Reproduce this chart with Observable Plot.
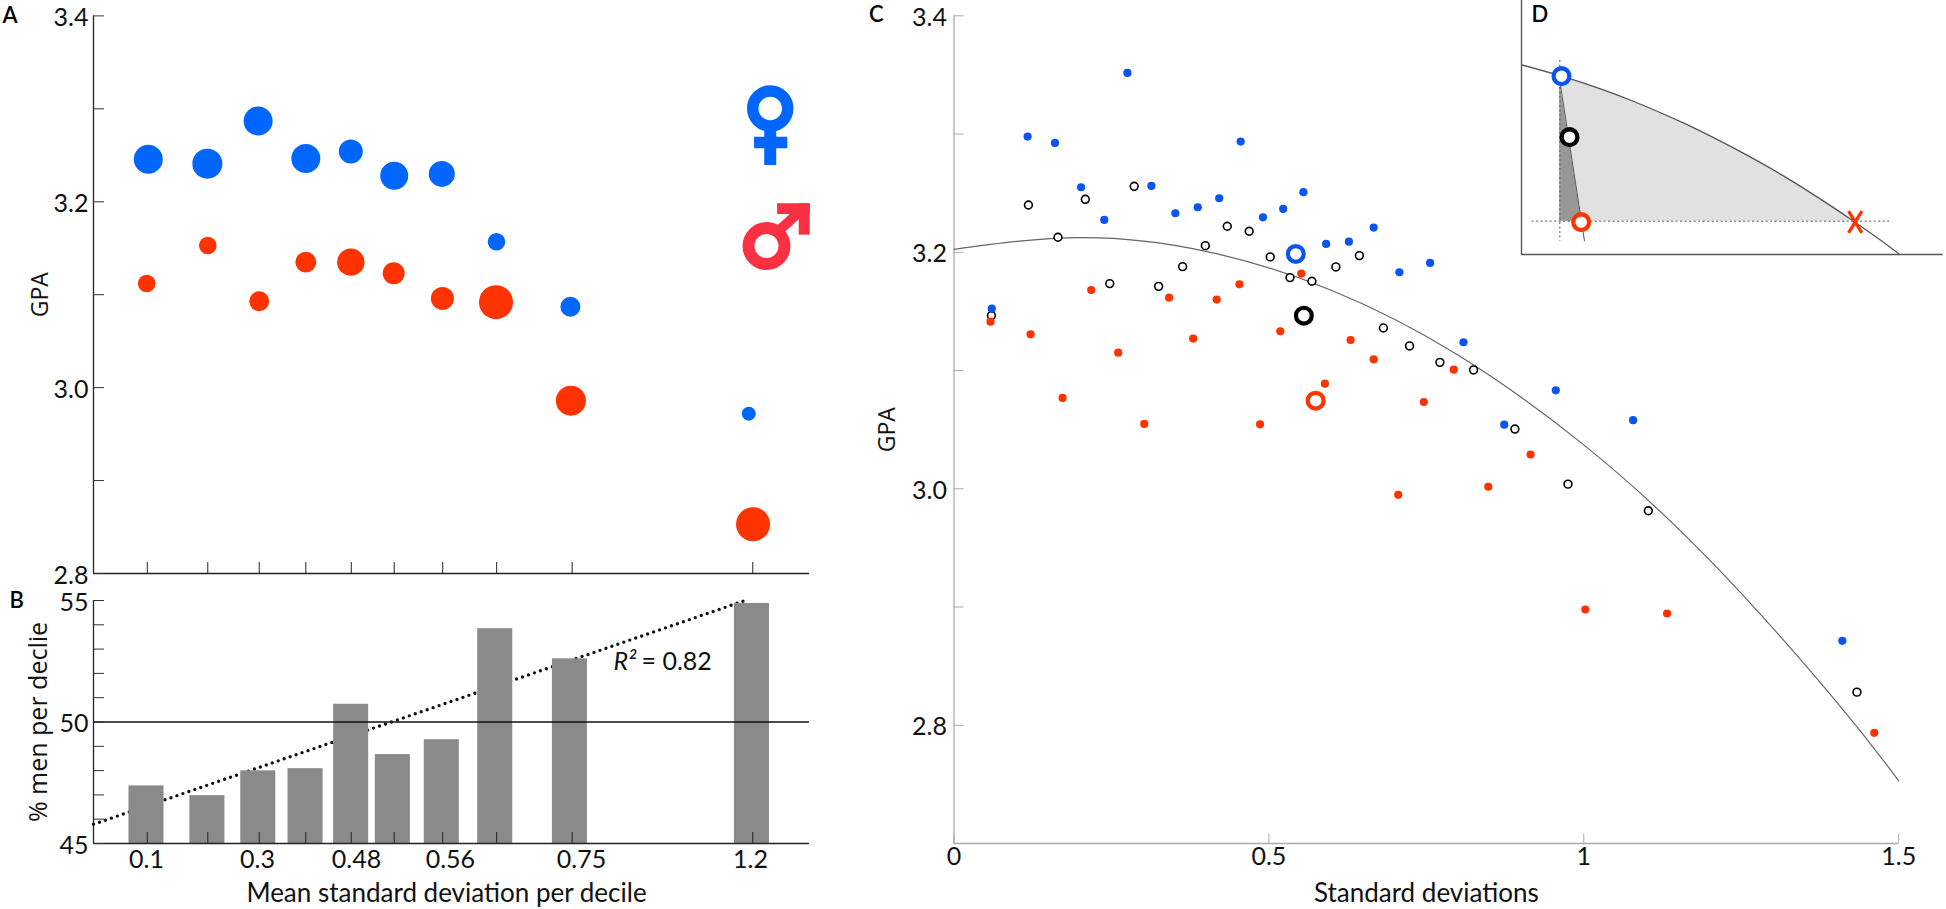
<!DOCTYPE html>
<html>
<head>
<meta charset="utf-8">
<script src="https://cdn.jsdelivr.net/npm/d3@7"></script>
<script src="https://cdn.jsdelivr.net/npm/@observablehq/plot@0.6"></script>
<style>
html,body{margin:0;padding:0;background:#fff;}
#page{position:relative;width:1946px;height:909px;overflow:hidden;}
#page>svg,#page>figure{position:absolute;margin:0;background:transparent;}
</style>
</head>
<body>
<div id="page"></div>
<script>
// Panel A: decile GPA by sex
const womenX   = [.0995,.2067,.2989,.3855,.4672,.546,.6324,.7317,.8659,1.1897];
const womenGPA = [3.2457,3.241,3.287,3.2465,3.254,3.228,3.23,3.157,3.087,2.972];
const womenN   = [14.5,15,14.5,14.5,12,14,13,8.8,10,7];
const menX     = [.0966,.2075,.3009,.3855,.4672,.545,.6335,.7308,.8668,1.1975];
const menGPA   = [3.112,3.153,3.093,3.135,3.135,3.123,3.096,3.092,2.986,2.853];
const menN     = [8.8,8.8,10,10.4,13.7,11,11.5,17,15,17];
const decileTicks = [.0977,.2075,.3009,.3855,.468,.546,.634,.732,.869,1.197];
const gpaTicksA = [2.8,2.9,3.0,3.1,3.2,3.3,3.4];
const gpaLabels = [2.8,3.0,3.2,3.4];
// Panel B: share of men per decile
const barX = [.0962,.2068,.2992,.3850,.4678,.5435,.6324,.7294,.8650,1.1955];
const pctMen = [47.37,46.97,47.99,48.08,50.73,48.66,49.27,53.84,52.6,54.88];
const pctTicks = [45,46,47,48,49,50,51,52,53,54,55];
const pctLabels = [45,50,55];
const bLabelX = [.0962,.2978,.4775,.648,.886,1.193];
const bLabels = ["0.1","0.3","0.48","0.56","0.75","1.2"];
const trendX = [0,1.183];
const trendY = [45.79,55];
// Panel C: scatter
const blueX = [.06,.1169,.1603,.2018,.2386,.2753,.3134,.3515,.387,.4211,.4552,.4906,.5227,.5548,.5909,.627,.6664,.7072,.756,.8089,.8737,.9555,1.0783,1.4105];
const blueY = [3.1523,3.2979,3.2925,3.255,3.2274,3.3517,3.2561,3.233,3.2381,3.2457,3.2936,3.2296,3.2367,3.2508,3.2071,3.209,3.2209,3.1831,3.191,3.1239,3.0542,3.0833,3.058,2.8714];
const redX = [.058,.1216,.1724,.2179,.2607,.3021,.3416,.3797,.4171,.4532,.5181,.4859,.5515,.5889,.6297,.6664,.746,.7935,.7053,.8483,.9155,1.0024,1.1322,1.4612];
const redY = [3.1413,3.1306,3.0768,3.1681,3.1151,3.0548,3.1616,3.127,3.16,3.1729,3.1332,3.0545,3.182,3.0889,3.1258,3.1095,3.0734,3.1007,2.9949,3.0017,3.029,2.8979,2.8945,2.7936];
const allX = [.0594,.1182,.1651,.2085,.2473,.2861,.3249,.363,.3991,.4339,.4687,.5021,.5335,.5683,.6063,.6437,.6818,.7233,.7715,.825,.8906,.9749,1.1025,1.4337];
const allY = [3.1464,3.24,3.2127,3.2448,3.1735,3.2558,3.1712,3.1879,3.2056,3.222,3.2178,3.1961,3.1786,3.1755,3.1876,3.1972,3.136,3.1208,3.1069,3.1005,3.0505,3.0039,2.9814,2.828];
const meanX = [.5427,.5555,.5742];
const meanY = [3.1986,3.1464,3.0745];
const meanColor = ["#0a55f0","#000000","#ff3300"];
const fitX = [0,.2,.4,.6,.8,1,1.2,1.4,1.5];
const fitY = [3.2025,3.2124,3.2008,3.1677,3.1132,3.0371,2.9396,2.8206,2.753];
const cTicksY = [2.7,2.8,2.9,3.0,3.1,3.2,3.3,3.4];
const cLabelsY = [2.8,3.0,3.2,3.4];
const cTicksX = [0,.5,1,1.5];
// Panel D: schematic, in arbitrary units
const dCurveX = [63,183,300,400,550,700,850,1000,1063,1130,1195];
const dCurveY = [193,227,265,303,368,443,527,622,665,712,760];
const dFillX = [178,183,300,400,550,700,850,1000,1060];
const dFillY = [225,227,265,303,368,443,527,622,662];
const dWedgeX = [178,240];
const dWedgeY = [250,640];
const dPointX = [183,207,242];
const dPointY = [227,410,665];
const dPointColor = ["#0a55f0","#000000","#ff3300"];
// Sex symbols beside panel A, in panel A's axis units
const femaleRing = {x:1.2287,y:3.3004};
const maleRing = {x:1.2219,y:3.1523};

const page = document.getElementById("page");
const NUM = "Lato, sans-serif", WIDE = "'Open Sans', sans-serif";
const RED = "#ff3300", BLUE = "#0066ff", DOT_BLUE = "#0a55f0", PINK = "#fb3042";
const zip = (a,b,c) => a.map((v,i)=>({x:v,y:b[i],z:c?c[i]:null}));

function place(svg,left,top){
  svg.style.left = left+"px"; svg.style.top = top+"px";
  page.appendChild(svg);
}
function panelLetter(t,dx,dy){
  return Plot.text([t],{frameAnchor:"top-left",dx,dy,fontFamily:NUM,fontSize:22,fontWeight:600,fill:"#000",textAnchor:"start",lineAnchor:"middle"});
}
const bar = (x1,y1,x2,y2,c,w) => Plot.link([0],{x1:[x1],y1:[y1],x2:[x2],y2:[y2],stroke:c,strokeWidth:w});

// ---------- A ----------
place(Plot.plot({
  width:840,height:590,marginLeft:93,marginRight:31,marginTop:15.4,marginBottom:17,
  style:{background:"transparent",overflow:"visible"},
  x:{domain:[0,1.3],axis:null},
  y:{domain:[2.8,3.4],axis:null},
  r:{type:"linear",domain:[0,20],range:[0,20]},
  marks:[
    Plot.ruleX([0],{stroke:"#222",strokeWidth:1.3}),
    Plot.ruleY([2.8],{stroke:"#222",strokeWidth:1.6}),
    Plot.tickY(gpaTicksA,{y:d=>d,insetRight:705,stroke:"#333",strokeWidth:1}),
    Plot.tickX(decileTicks,{x:d=>d,insetTop:546.6,stroke:"#222",strokeWidth:1}),
    Plot.axisY({ticks:gpaLabels,tickSize:0,tickPadding:5,tickFormat:".1f",fontFamily:NUM,fontSize:25,fill:"#111",label:null,dy:2}),
    Plot.dot(zip(womenX,womenGPA,womenN),{x:"x",y:"y",r:"z",fill:BLUE}),
    Plot.dot(zip(menX,menGPA,menN),{x:"x",y:"y",r:"z",fill:RED}),
    // female symbol
    Plot.dot([femaleRing],{x:"x",y:"y",r:17.5,fill:"none",stroke:BLUE,strokeWidth:11.5}),
    bar(1.2287,3.2765,1.2287,3.2395,BLUE,12),
    bar(1.1994,3.2638,1.2597,3.2638,BLUE,11.5),
    // male symbol
    Plot.dot([maleRing],{x:"x",y:"y",r:18,fill:"none",stroke:PINK,strokeWidth:12}),
    bar(1.2483,3.1711,1.2917,3.1945,PINK,10),
    bar(1.2412,3.1926,1.3006,3.1926,PINK,10.7),
    bar(1.2904,3.1984,1.2904,3.1646,PINK,11),
    Plot.text(["GPA"],{frameAnchor:"left",textAnchor:"middle",dx:-53,rotate:-90,fontFamily:WIDE,fontSize:23,fill:"#111"}),
    panelLetter("A",-91,0)
  ]
}),0,0);

// ---------- B ----------
place(Plot.plot({
  width:840,height:319,marginLeft:93,marginRight:31,marginTop:10,marginBottom:66,
  style:{background:"transparent",overflow:"visible"},
  x:{domain:[0,1.3],axis:null},
  y:{domain:[45,55],axis:null},
  marks:[
    Plot.line(zip(trendX,trendY),{x:"x",y:"y",stroke:"#111",strokeWidth:3.4,strokeDasharray:"0 6.3",strokeLinecap:"round"}),
    Plot.rect(zip(barX,pctMen),{x1:d=>d.x-.0318,x2:d=>d.x+.0318,y1:45,y2:"y",fill:"#8a8a8a"}),
    Plot.ruleX([0],{stroke:"#222",strokeWidth:1.3}),
    Plot.ruleY([45],{stroke:"#222",strokeWidth:1.6}),
    Plot.ruleY([50],{stroke:"#111",strokeWidth:1.5}),
    Plot.tickY(pctTicks,{y:d=>d,insetRight:705,stroke:"#333",strokeWidth:1}),
    Plot.tickX(decileTicks,{x:d=>d,insetTop:232,stroke:"#222",strokeWidth:1}),
    Plot.axisY({ticks:pctLabels,tickSize:0,tickPadding:5,fontFamily:NUM,fontSize:25,fill:"#111",label:null,dy:2}),
    Plot.axisX({ticks:bLabelX,tickSize:0,tickPadding:7,tickFormat:(d,i)=>bLabels[i],fontFamily:NUM,fontSize:25,fill:"#111",label:null}),
    Plot.text(["R²"],{x:[.944],y:[52.47],textAnchor:"start",fontFamily:NUM,fontStyle:"italic",fontSize:25,fill:"#111"}),
    Plot.text(["= 0.82"],{x:[.995],y:[52.47],textAnchor:"start",fontFamily:NUM,fontSize:25,fill:"#111"}),
    Plot.text(["% men per declie"],{frameAnchor:"left",textAnchor:"middle",dx:-55,rotate:-90,fontFamily:WIDE,fontSize:25,fill:"#111"}),
    Plot.text(["Mean standard deviation per decile"],{frameAnchor:"bottom",lineAnchor:"middle",dy:50,dx:-5,fontFamily:NUM,fontSize:26,fill:"#111"}),
    panelLetter("B",-84,0)
  ]
}),0,590);

// ---------- C ----------
place(Plot.plot({
  width:1086,height:909,marginLeft:93.5,marginRight:47.8,marginTop:15.3,marginBottom:66,
  style:{background:"transparent",overflow:"visible"},
  x:{domain:[0,1.5],axis:null},
  y:{domain:[2.7,3.4],axis:null},
  marks:[
    Plot.ruleX([0],{stroke:"#aaa",strokeWidth:1.3}),
    Plot.ruleY([2.7],{stroke:"#aaa",strokeWidth:1.3}),
    Plot.tickY(cTicksY,{y:d=>d,insetRight:934.7,stroke:"#aaa",strokeWidth:1}),
    Plot.tickX(cTicksX,{x:d=>d,insetTop:818.4,stroke:"#aaa",strokeWidth:1}),
    Plot.axisY({ticks:cLabelsY,tickSize:0,tickPadding:7,tickFormat:".1f",fontFamily:NUM,fontSize:25,fill:"#111",label:null,dy:2}),
    Plot.axisX({ticks:cTicksX,tickSize:0,tickPadding:4,tickFormat:d=>String(d),fontFamily:NUM,fontSize:25,fill:"#111",label:null}),
    Plot.line(zip(fitX,fitY),{x:"x",y:"y",stroke:"#666",strokeWidth:1.2,curve:"natural"}),
    Plot.dot(zip(allX,allY),{x:"x",y:"y",r:3.9,fill:"#fff",stroke:"#000",strokeWidth:1.6}),
    Plot.dot(zip(blueX,blueY),{x:"x",y:"y",r:4.1,fill:DOT_BLUE}),
    Plot.dot(zip(redX,redY),{x:"x",y:"y",r:4.1,fill:RED}),
    Plot.dot(meanX.map((v,i)=>({x:v,y:meanY[i],c:meanColor[i]})),{x:"x",y:"y",r:7.9,fill:"none",stroke:d=>d.c,strokeWidth:4.2}),
    Plot.text(["GPA"],{frameAnchor:"left",textAnchor:"middle",dx:-66,rotate:-90,fontFamily:WIDE,fontSize:23,fill:"#111"}),
    Plot.text(["Standard deviations"],{frameAnchor:"bottom",lineAnchor:"middle",dy:50,fontFamily:NUM,fontSize:26,fill:"#111"}),
    panelLetter("C",-85,-1)
  ]
}),860,0);

// ---------- D ----------
place(Plot.plot({
  width:446,height:270,marginLeft:21,marginRight:3.3,marginTop:0,marginBottom:16,
  style:{background:"transparent",overflow:"visible"},
  x:{domain:[63,1328],axis:null},
  y:{domain:[762,0],axis:null},
  marks:[
    Plot.areaY(zip(dFillX,dFillY),{x:"x",y1:662,y2:"y",fill:"#e1e1e1",curve:"natural"}),
    Plot.areaY(zip(dWedgeX,dWedgeY),{x:"x",y1:662,y2:"y",fill:"#979797"}),
    Plot.ruleX([63],{stroke:"#555",strokeWidth:1.4}),
    Plot.ruleY([762],{stroke:"#555",strokeWidth:1.4}),
    Plot.line(zip(dCurveX,dCurveY),{x:"x",y:"y",stroke:"#555",strokeWidth:1.3,curve:"natural"}),
    Plot.ruleY([662],{x1:95,x2:1175,stroke:"#555",strokeWidth:1,strokeDasharray:"2 2.5"}),
    Plot.ruleX([178],{y1:180,y2:722,stroke:"#555",strokeWidth:1,strokeDasharray:"2 2.5"}),
    bar(180,255,252,722,"#555",1),
    Plot.dot(dPointX.map((v,i)=>({x:v,y:dPointY[i],c:dPointColor[i]})),{x:"x",y:"y",r:7.9,fill:"#fff",stroke:d=>d.c,strokeWidth:4.3}),
    bar(1044,632,1084,697,RED,3.2),
    bar(1084,632,1044,697,RED,3.2),
    panelLetter("D",10,14)
  ]
}),1500,0);
</script>
</body>
</html>
